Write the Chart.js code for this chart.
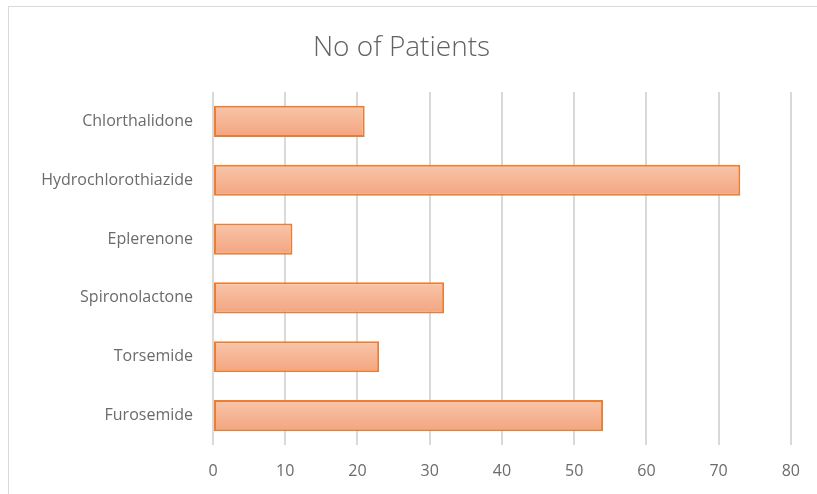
<!DOCTYPE html>
<html>
<head>
<meta charset="utf-8">
<script src="https://cdn.jsdelivr.net/npm/chart.js@4/dist/chart.umd.min.js"></script>
<style>
  html, body { margin: 0; padding: 0; background: #fff; overflow: hidden; }
  #frame { position: absolute; left: 8px; top: 6px; width: 1000px; height: 1000px; border: 1px solid #d9d9d9; }
  #wrap { position: absolute; left: 0; top: 0; width: 817px; height: 494px; }
</style>
</head>
<body>
<div id="frame"></div>
<div id="wrap"><canvas id="barChart" width="817" height="494"></canvas></div>
<script>
const drugs = ["Chlorthalidone", "Hydrochlorothiazide", "Eplerenone", "Spironolactone", "Torsemide", "Furosemide"];
const patients = [21, 73, 11, 32, 23, 54];
const xTicks = [0, 10, 20, 30, 40, 50, 60, 70, 80];

const textColor = "#6b6b6b";
const gridColor = "#d9d9d9";

function barGradient(ctx) {
  const chart = ctx.chart;
  const area = chart.chartArea;
  if (!area || ctx.type !== "data") return "#f5b594";
  const yScale = chart.scales.y;
  const center = yScale.getPixelForTick(ctx.dataIndex);
  const half = 16;
  const g = chart.ctx.createLinearGradient(0, center - half, 0, center + half);
  g.addColorStop(0, "#f8c6aa");
  g.addColorStop(1, "#f3a47f");
  return g;
}

new Chart(document.getElementById("barChart"), {
  type: "bar",
  data: {
    labels: drugs,
    datasets: [{
      label: "No of Patients",
      data: patients,
      backgroundColor: barGradient,
      borderColor: "#ed7d31",
      borderWidth: 2,
      borderSkipped: false,
      barPercentage: 0.53,
      categoryPercentage: 1
    }]
  },
  options: {
    indexAxis: "y",
    responsive: false,
    animation: false,
    layout: { padding: { left: 9, right: 23, top: 0, bottom: 0 } },
    plugins: {
      legend: { display: false },
      tooltip: { enabled: false },
      title: {
        display: true,
        text: "No of Patients",
        color: "#626262",
        font: { family: "'Open Sans'", size: 28, weight: "300", lineHeight: 1.2 },
        padding: { top: 31, bottom: 27.4 }
      }
    },
    scales: {
      x: {
        min: 0,
        max: 80,
        afterBuildTicks: axis => { axis.ticks = xTicks.map(v => ({ value: v })); },
        afterFit: axis => { axis.height = 49; },
        grid: { color: gridColor, lineWidth: 2, drawTicks: false },
        border: { display: false },
        ticks: {
          color: textColor,
          padding: 17,
          font: { family: "'Open Sans'", size: 16 }
        }
      },
      y: {
        afterFit: axis => { axis.width = 204; },
        grid: { display: false, drawTicks: false },
        border: { display: false },
        ticks: {
          color: textColor,
          padding: 20,
          font: { family: "'Open Sans'", size: 16 }
        }
      }
    }
  }
});
</script>
</body>
</html>
